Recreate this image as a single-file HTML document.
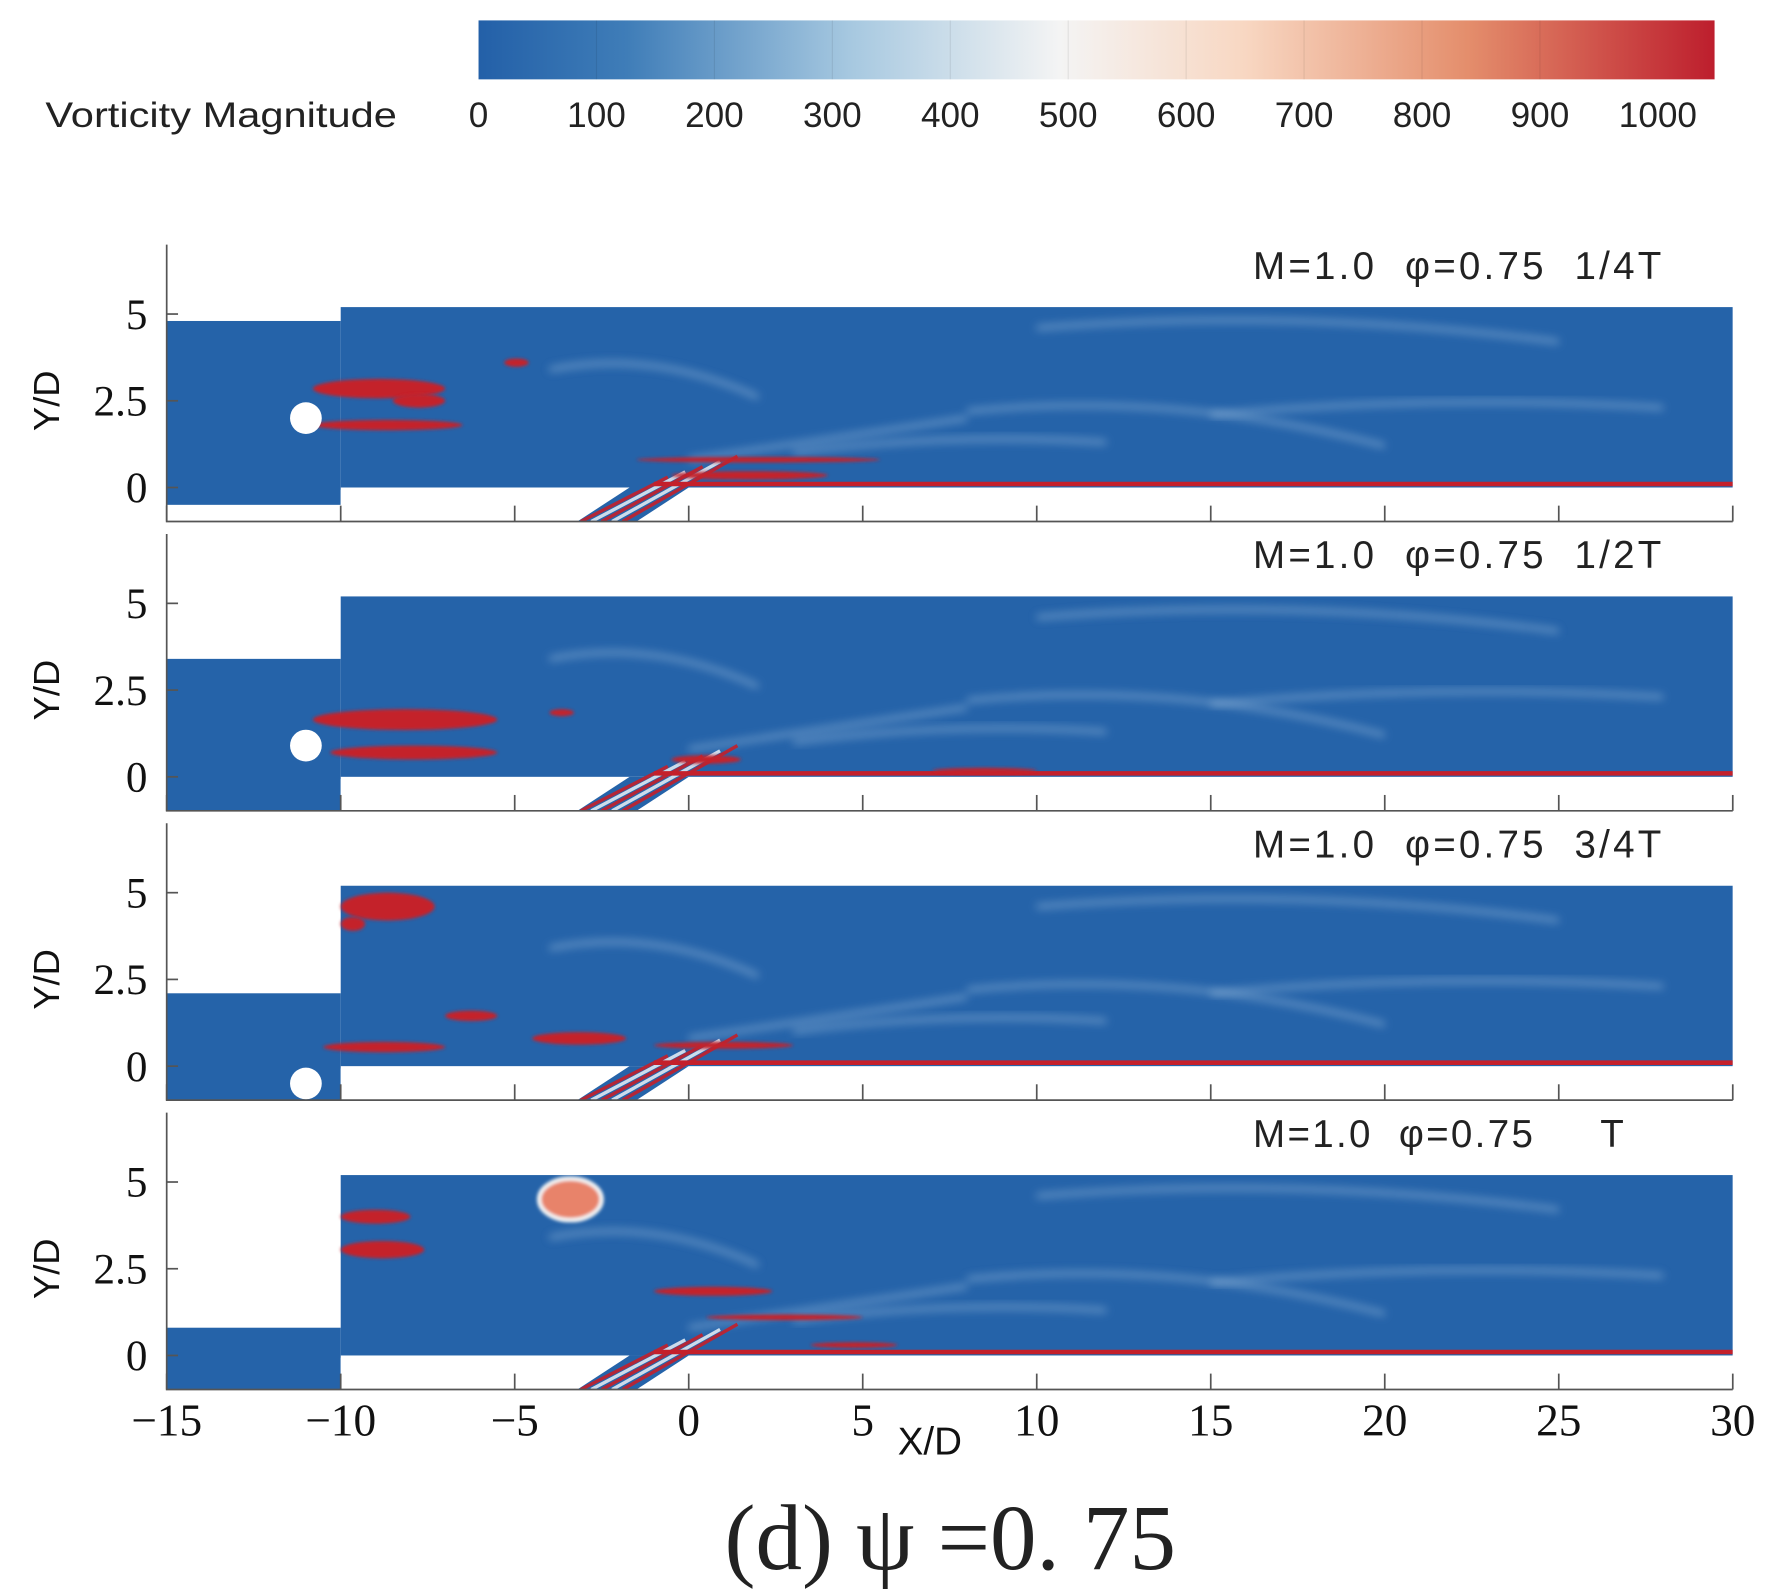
<!DOCTYPE html>
<html><head><meta charset="utf-8">
<style>
html,body{margin:0;padding:0;background:#fff;}
svg{display:block;}
text{font-family:"Liberation Sans",sans-serif;}
.serif{font-family:"Liberation Serif",serif;}
</style></head>
<body>
<svg id="fig" width="1769" height="1594" viewBox="0 0 1560 1406" preserveAspectRatio="none" xmlns="http://www.w3.org/2000/svg">
<defs>
<linearGradient id="cmap" x1="0" x2="1" y1="0" y2="0">
<stop offset="0" stop-color="#2360a8"/>
<stop offset="0.12" stop-color="#3f7db8"/>
<stop offset="0.3" stop-color="#a6c8e0"/>
<stop offset="0.47" stop-color="#f4f4f4"/>
<stop offset="0.62" stop-color="#f8d7c2"/>
<stop offset="0.8" stop-color="#e48e6c"/>
<stop offset="1" stop-color="#bd1e2d"/>
</linearGradient>
<filter id="blur" x="-20%" y="-50%" width="140%" height="200%"><feGaussianBlur stdDeviation="4"/></filter>
<filter id="blur2" x="-20%" y="-50%" width="140%" height="200%"><feGaussianBlur stdDeviation="1.5"/></filter>
</defs>
<g id="colorbar">
<rect x="422" y="18" width="1090" height="52" fill="url(#cmap)"/>
<text x="40" y="112" font-size="31" textLength="310" lengthAdjust="spacingAndGlyphs" fill="#222">Vorticity Magnitude</text>
</g>
<g id="panels"></g>
<g id="xaxis"></g>
<text x="820" y="1283" font-size="34" text-anchor="middle" fill="#111">X/D</text>
<text class="serif" x="838" y="1384" font-size="82" text-anchor="middle" fill="#222">(d) ψ =0. 75</text>
</svg>
<script>
const cbTicks=[0,100,200,300,400,500,600,700,800,900,1000];
const xTicks=[-15,-10,-5,0,5,10,15,20,25,30];
const yTicks=[0,2.5,5];
const panelLabels=["1/4T","1/2T","3/4T","T"];
const inletTop=[4.8,3.4,2.1,0.8];
const inletBottom=[-0.5,-1,-1,-1];
const cylY=[2,0.9,-0.5,null];
// red vortex structures per panel: [x1,x2,y,thickness]
const redBlobs=[
 [[-10.8,-7,2.85,0.28],[-10.8,-6.5,1.8,0.15],[-8.5,-7,2.5,0.2],[-5.3,-4.6,3.6,0.12],[-0.5,4,0.35,0.12],[-1.5,5.5,0.8,0.08]],
 [[-10.8,-5.5,1.65,0.3],[-10.3,-5.5,0.7,0.2],[-4,-3.3,1.85,0.1],[-0.5,1.5,0.5,0.12],[7,10,0.18,0.08]],
 [[-10,-7.3,4.6,0.4],[-10,-9.3,4.1,0.2],[-10.5,-7,0.55,0.15],[-7,-5.5,1.45,0.15],[-4.5,-1.8,0.8,0.18],[-1,3,0.6,0.1]],
 [[-10,-8,4.0,0.2],[-10,-7.6,3.05,0.25],[-1,2.4,1.85,0.13],[0.5,5,1.1,0.08],[3.5,6,0.3,0.08]]
];
const blobs4=[[-3.4,4.5,0.6]];
const NS="http://www.w3.org/2000/svg";
const svg=document.getElementById('fig');
function el(tag,attrs,parent){const e=document.createElementNS(NS,tag);for(const k in attrs)e.setAttribute(k,attrs[k]);(parent||svg).appendChild(e);return e;}
const cbx=v=>422+v*1.04;
const cbg=document.getElementById('colorbar');
cbTicks.forEach(v=>{
 const t=el('text',{x:cbx(v),y:112,'font-size':31,'text-anchor':'middle',fill:'#222'},cbg);
 
 
 t.textContent=v;
 if(v>0&&v<1000){const l=el('line',{x1:cbx(v),x2:cbx(v),y1:18,y2:70,stroke:'rgba(0,0,0,0.08)'},cbg);
 
 }
});
const X=v=>147+(v+15)*30.69;
const pg=document.getElementById('panels');
const BLUE="#2563a9",RED="#c4202b";
panelLabels.forEach((lab,i)=>{
 const y0=430+i*255.2;
 const Y=v=>y0-v*30.6;
 const g=el('g',{},pg);
 
 
 const bottom=y0+30;
 const clipId='clip'+i;
 const cp=el('clipPath',{id:clipId},g);
 el('rect',{x:X(-15),y:Y(5.3),width:X(30)-X(-15),height:bottom-Y(5.3)},cp);
 const fg=el('g',{'clip-path':`url(#${clipId})`},g);
 const d=el('rect',{x:X(-10),y:Y(5.2),width:X(30)-X(-10),height:Y(0)-Y(5.2),fill:BLUE},fg);
 
 
 const inl=el('rect',{x:X(-15),y:Y(inletTop[i]),width:X(-10)-X(-15),height:Math.min(Y(inletBottom[i]),bottom)-Y(inletTop[i]),fill:BLUE},fg);
 
 
 const hole=el('polygon',{points:`${X(-3.2)},${bottom} ${X(-1.5)},${bottom} ${X(0)},${Y(0)} ${X(-1.7)},${Y(0)}`,fill:BLUE},fg);
 
 
 const wisp=[[0,0.8,8,2.0],[8,2.2,20,1.2],[15,2.1,28,2.3],[3,1.0,12,1.3],[-4,3.4,2,2.6],[10,4.6,25,4.2]];
 wisp.forEach((p,k)=>{const wl=el('path',{d:`M${X(p[0])},${Y(p[1])} Q${X((p[0]+p[2])/2)},${Y(p[1]+0.6)} ${X(p[2])},${Y(p[3])}`,stroke:'#9fc0df','stroke-width':4,fill:'none',filter:'url(#blur)',opacity:0.6},fg);
 
 });
 for(let k=0;k<5;k++){const s=el('line',{x1:X(-3.1+k*0.3),y1:bottom,x2:X(-0.6+k*0.5),y2:Y(0.3+k*0.15),stroke:k%2?'#dfe9f3':RED,'stroke-width':3,opacity:0.9},fg);
 
 }
 const w=el('line',{x1:X(-1),x2:X(30),y1:Y(0.1),y2:Y(0.1),stroke:RED,'stroke-width':4},fg);
 
 
 redBlobs[i].forEach(b=>{
  const r=el('ellipse',{cx:(X(b[0])+X(b[1]))/2,cy:Y(b[2]),rx:(X(b[1])-X(b[0]))/2,ry:b[3]*30.6,fill:RED,filter:'url(#blur2)'},fg);
  
  
 });
 if(i===3){blobs4.forEach(b=>{const r=el('ellipse',{cx:X(b[0]),cy:Y(b[1]),rx:b[2]*30.6*1.5,ry:b[2]*30.6,fill:'#e8836a',stroke:'#f3f3f3','stroke-width':4,filter:'url(#blur2)'},fg);
  
  });}
 if(cylY[i]!==null){
  const c=el('circle',{cx:X(-11),cy:Y(cylY[i]),r:14,fill:'#fff'},fg);
  
  
 }
 const wb=el('rect',{x:X(-10),y:Y(0)+2,width:X(-3.2)-X(-10),height:bottom-Y(0)-2,fill:'#fff'},fg);
 
 
 const wb2=el('polygon',{points:`${X(-1.5)},${bottom} ${X(30)},${bottom} ${X(30)},${Y(0)+2} ${X(0)},${Y(0)+2}`,fill:'#fff'},fg);
 
 
 const ax=el('path',{d:`M${X(-15)},${Y(7)} V${bottom} H${X(30)}`,stroke:'#555','stroke-width':1.5,fill:'none'},g);
 
 
 xTicks.forEach(v=>{const t=el('line',{x1:X(v),x2:X(v),y1:bottom,y2:bottom-14,stroke:'#555','stroke-width':1.5},g);
 
 });
 yTicks.forEach(v=>{const t=el('line',{x1:X(-15),x2:X(-15)+10,y1:Y(v),y2:Y(v),stroke:'#555','stroke-width':1.5},g);
 
 
 const tl=el('text',{x:130,y:Y(v)+13,'font-size':38,'text-anchor':'end',fill:'#111',class:'serif'},g);
 
 
 tl.textContent=v;});
 const yt=el('text',{x:0,y:0,'font-size':32,'text-anchor':'middle',fill:'#111',transform:`translate(52,${Y(2.5)}) rotate(-90)`},g);
 
 
 yt.textContent='Y/D';
 const pt=el('text',{x:1105,y:y0-184,'font-size':34,fill:'#222'},g);
 
 
 pt.setAttribute('xml:space','preserve');
 pt.style.whiteSpace='pre';
 pt.textContent='M=1.0  φ=0.75  '+(lab==='T'?'   T':lab);
 if(lab!=='T'){pt.setAttribute('textLength','360');}
 else{pt.setAttribute('textLength','327');}
});
const xg=document.getElementById('xaxis');
xTicks.forEach(v=>{const t=el('text',{x:X(v),y:1266,'font-size':40,'text-anchor':'middle',fill:'#111',class:'serif'},xg);
 
 
 t.textContent=v<0?'−'+(-v):v;});
</script>
</body></html>
